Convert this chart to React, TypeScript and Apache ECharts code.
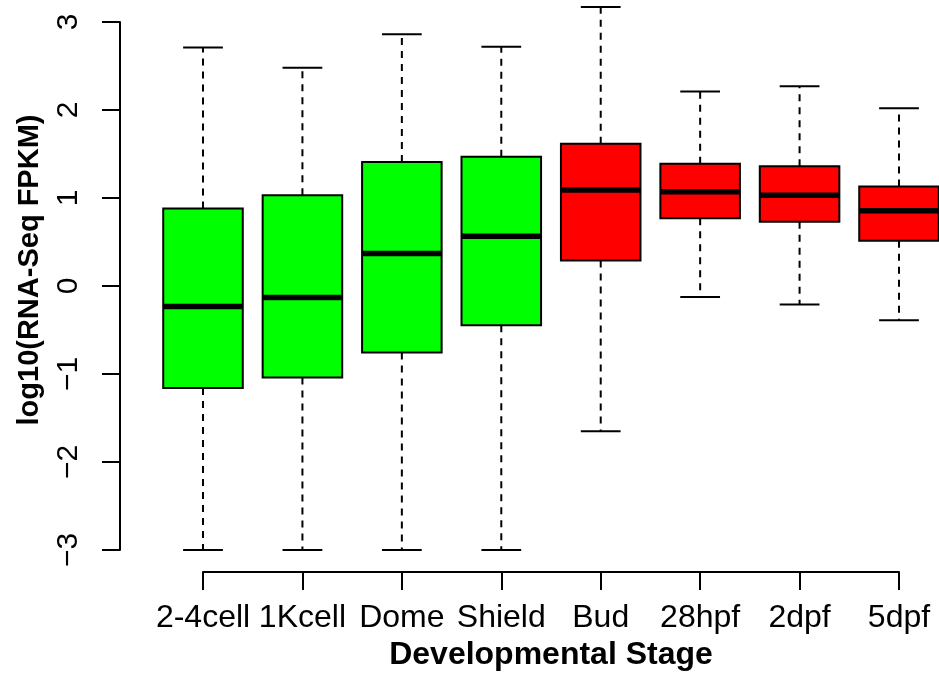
import React, { useEffect, useRef } from 'react';
import * as echarts from 'echarts';

const stages = ['2-4cell', '1Kcell', 'Dome', 'Shield', 'Bud', '28hpf', '2dpf', '5dpf'];
const whiskerLow = [-3, -3, -3, -3, -1.65, -0.125, -0.21, -0.39];
const q1 = [-1.16, -1.04, -0.755, -0.445, 0.29, 0.77, 0.73, 0.515];
const median = [-0.234, -0.13, 0.37, 0.565, 1.09, 1.07, 1.03, 0.855];
const q3 = [0.88, 1.03, 1.41, 1.47, 1.616, 1.39, 1.36, 1.13];
const whiskerHigh = [2.71, 2.48, 2.86, 2.72, 3.17, 2.21, 2.27, 2.02];
const yTicks = [-3, -2, -1, 0, 1, 2, 3];

const boxColors = ['#00FF00', '#00FF00', '#00FF00', '#00FF00', '#FF0000', '#FF0000', '#FF0000', '#FF0000'];
const FONT = '"Liberation Sans", Arial, Helvetica, sans-serif';

export default function App() {
  const ref = useRef<HTMLDivElement>(null);
  useEffect(() => {
    const chart = echarts.init(ref.current as HTMLDivElement, null, { renderer: 'svg' });
    const data = stages.map((_, i) => [i + 1, whiskerLow[i], q1[i], median[i], q3[i], whiskerHigh[i]]);

    const renderItem = (params: any, api: any) => {
      const x = api.value(0);
      const lo = api.coord([x, api.value(1)]);
      const a = api.coord([x, api.value(2)]);
      const m = api.coord([x, api.value(3)]);
      const b = api.coord([x, api.value(4)]);
      const hi = api.coord([x, api.value(5)]);
      const half = api.size([0.4, 0])[0];
      const cap = half / 2;
      const cx = m[0];
      const color = boxColors[params.dataIndex];
      const dash = { stroke: '#000', lineWidth: 2, lineDash: [7, 6], fill: null };
      const solid = { stroke: '#000', lineWidth: 2, fill: null };
      return {
        type: 'group',
        children: [
          { type: 'line', shape: { x1: cx, y1: b[1], x2: cx, y2: hi[1] }, style: dash },
          { type: 'line', shape: { x1: cx, y1: a[1], x2: cx, y2: lo[1] }, style: dash },
          { type: 'line', shape: { x1: cx - cap, y1: hi[1], x2: cx + cap, y2: hi[1] }, style: solid },
          { type: 'line', shape: { x1: cx - cap, y1: lo[1], x2: cx + cap, y2: lo[1] }, style: solid },
          {
            type: 'rect',
            shape: { x: cx - half, y: b[1], width: 2 * half, height: a[1] - b[1] },
            style: { fill: color, stroke: '#000', lineWidth: 2 },
          },
          {
            type: 'line',
            shape: { x1: cx - half, y1: m[1], x2: cx + half, y2: m[1] },
            style: { stroke: '#000', lineWidth: 5.5, lineCap: 'butt', fill: null },
          },
        ],
      };
    };

    chart.setOption({
      animation: false,
      grid: { left: 203, right: 40, top: 22, bottom: 127, containLabel: false },
      xAxis: {
        type: 'value',
        min: 1,
        max: 8,
        interval: 1,
        offset: 22,
        splitLine: { show: false },
        axisLine: { show: true, onZero: false, lineStyle: { color: '#000', width: 2 } },
        axisTick: { show: true, length: 18, lineStyle: { color: '#000', width: 2 } },
        axisLabel: {
          formatter: (v: number) => stages[Math.round(v) - 1] ?? '',
          fontSize: 32,
          color: '#000',
          fontFamily: FONT,
          margin: 28,
        },
        name: 'Developmental Stage',
        nameLocation: 'middle',
        nameGap: 60,
        nameTextStyle: { fontWeight: 'bold', fontSize: 32, color: '#000', fontFamily: FONT },
      },
      yAxis: {
        type: 'value',
        min: yTicks[0],
        max: yTicks[yTicks.length - 1],
        interval: 1,
        offset: 83,
        splitLine: { show: false },
        axisLine: { show: true, onZero: false, lineStyle: { color: '#000', width: 2 } },
        axisTick: { show: true, length: 18, lineStyle: { color: '#000', width: 2 } },
        axisLabel: {
          rotate: 90,
          formatter: (v: number) => (v < 0 ? '\u2212' + Math.abs(v) : String(v)),
          fontSize: 30,
          color: '#000',
          fontFamily: FONT,
          margin: 39,
        },
        name: 'log10(RNA-Seq FPKM)',
        nameLocation: 'middle',
        nameRotate: 90,
        nameGap: 78,
        nameTextStyle: {
          fontWeight: 'bold',
          fontSize: 29,
          color: '#000',
          fontFamily: FONT,
          padding: [0, 0, 0, 32],
        },
      },
      series: [
        {
          type: 'custom',
          renderItem,
          data,
          clip: false,
          encode: { x: 0, y: [1, 2, 3, 4, 5] },
        },
      ],
    });
    return () => chart.dispose();
  }, []);
  return <div ref={ref} style={{ position: 'fixed', left: 0, top: 0, width: 939, height: 677 }} />;
}
